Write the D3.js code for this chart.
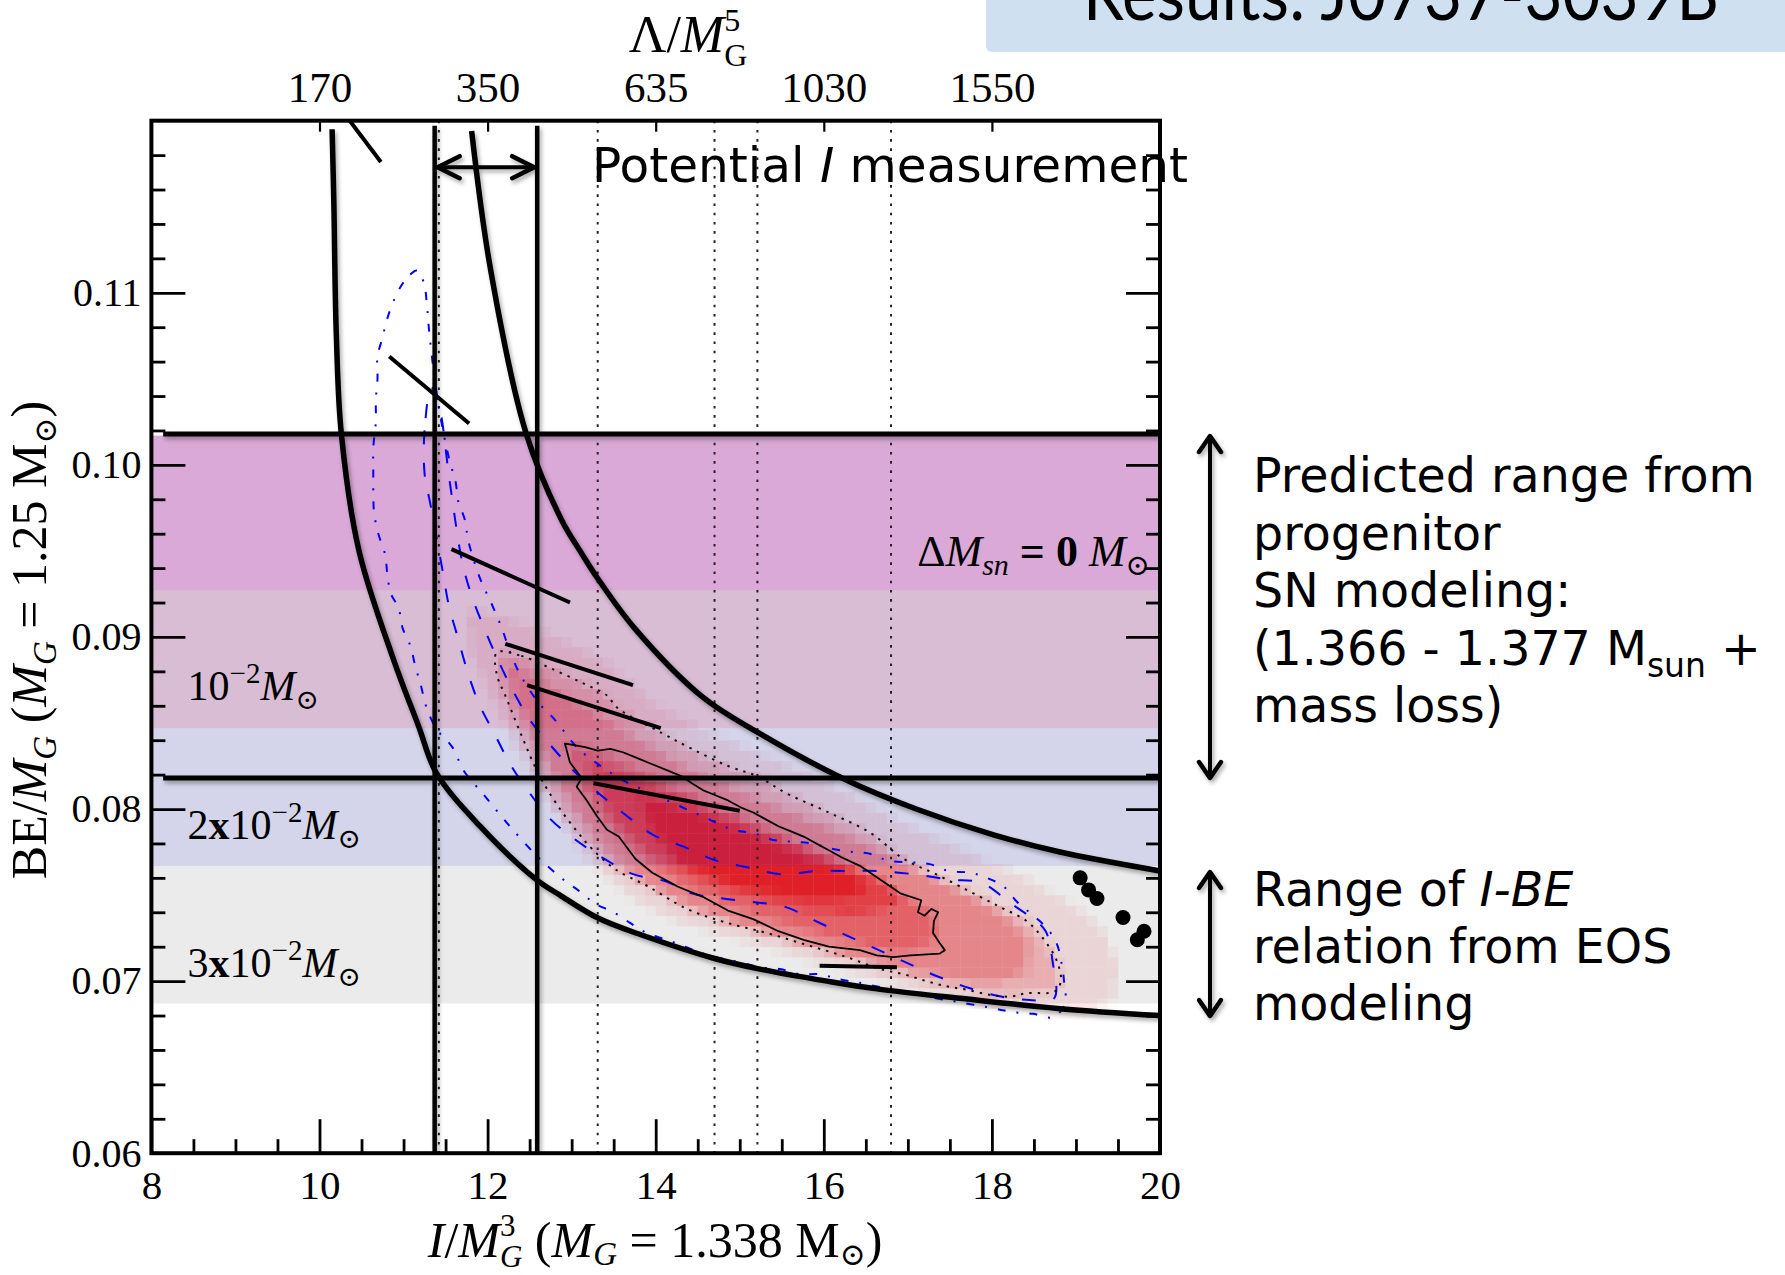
<!DOCTYPE html>
<html>
<head>
<meta charset="utf-8">
<title>Results: J0737-3039B</title>
<script src="https://cdn.jsdelivr.net/npm/d3@7"></script>
<style>
  html, body { margin: 0; padding: 0; background: #ffffff; }
  svg { display: block; }
  .serif { font-family: 'Liberation Serif', 'DejaVu Serif', serif; fill: #000; }
  .sans  { font-family: 'DejaVu Sans', 'Noto Sans', sans-serif; fill: #000; }
</style>
</head>
<body>
<svg id="chart" width="1785" height="1275"></svg>
<script>
// ---------------- Axis ticks ----------------
const iMajorTicks = [8, 10, 12, 14, 16, 18, 20];
const iTickLabels = ["8", "10", "12", "14", "16", "18", "20"];
const beMajorTicks = [0.06, 0.07, 0.08, 0.09, 0.10, 0.11];
const beTickLabels = ["0.06", "0.07", "0.08", "0.09", "0.10", "0.11"];
const lambdaTickI = [10, 12, 14, 16, 18];
const lambdaTickLabels = ["170", "350", "635", "1030", "1550"];

// ---------------- Mass-loss bands in BE/M_G ----------------
const bandTop    = [0.1017, 0.0927, 0.0847, 0.0767];
const bandBottom = [0.0927, 0.0847, 0.0767, 0.0687];

// Progenitor SN prediction limits (BE) and potential I measurement window (I)
const progenitorBE = [0.1018, 0.0818];
const measuredI = [11.37, 12.59];
// Reference Lambda guides
const lambdaGuideI = [11.42, 13.31, 14.70, 15.21, 16.80];

// ---------------- I-BE envelope from EOS modeling ----------------
const ibeLower = [[10.15,0.1195],[10.17,0.1154],[10.20,0.1076],[10.26,0.1018],[10.47,0.0950],[10.88,0.0887],
  [11.18,0.0848],[11.39,0.0821],[11.91,0.0790],[12.58,0.0759],[12.86,0.0750],[13.32,0.07365],[13.85,0.07265],
  [14.71,0.0713],[15.24,0.0707],[16.04,0.0700],[16.63,0.06955],[17.62,0.0690],[18.81,0.0684],[20.0,0.0680]];
const ibeUpper = [[11.81,0.1194],[12.03,0.1115],[12.46,0.1018],[12.88,0.0968],[13.10,0.0950],[13.31,0.0934],
  [13.75,0.0905],[14.56,0.0865],[15.20,0.0845],[16.26,0.0817],[17.10,0.0800],[18.02,0.0785],[18.81,0.0775],
  [20.0,0.0764]];

// Individual EOS tracks and points
const eosTracks = [
  [[10.36,0.1200],[10.73,0.1176]],
  [[10.83,0.1063],[11.78,0.1024]],
  [[11.57,0.0951],[12.98,0.0920]],
  [[12.21,0.0896],[13.73,0.0872]],
  [[12.47,0.0872],[14.06,0.0847]],
  [[13.26,0.0815],[15.00,0.0799]],
  [[15.95,0.0709],[16.87,0.0708]]
];
const eosPoints = [[19.05,0.0760],[19.15,0.0753],[19.25,0.0748],[19.56,0.0737],[19.81,0.0729],[19.73,0.0724]];

// ---------------- Posterior contours ----------------
const sigmaInner = [[12.93,0.0838],[13.16,0.0836],[13.31,0.0834],[13.46,0.0835],[13.61,0.0833],[13.76,0.0830],
  [13.96,0.0826],[14.16,0.0822],[14.31,0.0819],[14.43,0.0815],[14.56,0.0811],[14.71,0.0808],[14.86,0.0805],
  [15.01,0.0801],[15.16,0.0798],[15.31,0.0794],[15.46,0.0790],[15.61,0.0787],[15.76,0.0784],[15.91,0.0780],
  [16.06,0.0776],[16.21,0.0772],[16.43,0.0767],[16.67,0.0759],[16.91,0.0751],[17.16,0.0747],[17.12,0.0740],
  [17.20,0.0738],[17.28,0.0742],[17.36,0.0740],[17.31,0.0735],[17.30,0.0728],[17.38,0.0722],[17.44,0.0718],
  [17.38,0.0716],[17.03,0.0715],[16.83,0.0714],[16.63,0.0715],[16.43,0.0718],[16.06,0.0720],[15.76,0.0724],
  [15.46,0.0729],[15.16,0.0736],[14.86,0.0741],[14.56,0.0749],[14.26,0.0755],[13.96,0.0763],[13.76,0.0771],
  [13.56,0.0784],[13.42,0.0788],[13.30,0.0796],[13.18,0.0805],[13.06,0.0813],[13.12,0.0818],[12.98,0.0827],
  [12.92,0.0838]];
const sigmaOuter = [[12.11,0.0891],[12.40,0.0889],[12.74,0.0882],[13.14,0.0873],[13.42,0.0866],[13.54,0.0859],
  [14.08,0.0844],[14.43,0.0835],[14.86,0.0825],[15.21,0.0819],[15.56,0.0809],[16.06,0.0798],[16.56,0.0786],
  [16.95,0.0771],[17.34,0.0762],[17.74,0.0752],[18.10,0.0743],[18.41,0.0735],[18.59,0.0726],[18.77,0.0712],
  [18.82,0.0700],[18.75,0.0694],[18.41,0.0693],[18.22,0.0691],[17.98,0.0692],[17.70,0.0695],[17.46,0.0697],
  [17.22,0.0700],[16.95,0.0704],[16.67,0.0707],[16.27,0.0714],[15.80,0.0721],[15.32,0.0728],[14.84,0.0734],
  [14.37,0.0742],[13.91,0.0755],[13.52,0.0765],[13.24,0.0777],[13.08,0.0786],[12.82,0.0803],[12.60,0.0821],
  [12.41,0.0842],[12.21,0.0866],[12.11,0.0878]];
const blueDashed = [[11.33,0.1045],[11.25,0.1020],[11.25,0.0995],[11.32,0.0977],[11.47,0.0937],[11.54,0.0918],
  [11.65,0.0899],[11.76,0.0880],[11.90,0.0861],[12.09,0.0843],[12.27,0.0826],[12.49,0.0810],[12.75,0.0794],
  [13.05,0.0782],[13.39,0.0771],[13.74,0.0762],[14.12,0.0758],[14.43,0.0751],[14.80,0.0748],[15.15,0.0746],
  [15.55,0.0743],[15.90,0.0735],[16.25,0.0727],[16.61,0.0719],[16.97,0.0711],[17.34,0.0703],[17.73,0.0696],
  [18.11,0.0691],[18.45,0.0689],[18.74,0.0690],[18.72,0.0712],[18.64,0.0729],[18.52,0.0735],[18.23,0.0745],
  [17.88,0.0757],[17.50,0.0759],[17.09,0.0762],[16.65,0.0764],[16.30,0.0764],[15.91,0.0764],[15.50,0.0762],
  [15.11,0.0766],[14.72,0.0770],[14.34,0.0778],[13.97,0.0785],[13.63,0.0797],[13.35,0.0808],[13.03,0.0822],
  [12.75,0.0837],[12.50,0.0852],[12.30,0.0869],[12.12,0.0887],[11.96,0.0905],[11.81,0.0924],[11.70,0.0943],
  [11.55,0.0990],[11.42,0.1035]];
const blueDashDot = [[11.16,0.1113],[11.00,0.1106],[10.88,0.1095],[10.80,0.1084],[10.75,0.1074],[10.69,0.1063],
  [10.69,0.1050],[10.67,0.1038],[10.67,0.1025],[10.64,0.1010],[10.64,0.0997],[10.64,0.0985],[10.65,0.0972],
  [10.70,0.0960],[10.78,0.0948],[10.81,0.0935],[10.85,0.0925],[10.94,0.0917],[10.99,0.0905],[11.08,0.0895],
  [11.14,0.0883],[11.20,0.0873],[11.28,0.0858],[11.40,0.0846],[11.58,0.0836],[11.72,0.0822],[11.96,0.0808],
  [12.11,0.0799],[12.30,0.0788],[12.60,0.0772],[12.90,0.0759],[13.10,0.0752],[13.28,0.0745],[13.50,0.0740],
  [13.69,0.0734],[13.89,0.0728],[14.13,0.0724],[14.35,0.0720],[14.57,0.0716],[14.80,0.0713],[15.00,0.0711],
  [15.24,0.0708],[15.48,0.0707],[15.72,0.0704],[15.95,0.0704],[16.19,0.0701],[16.43,0.0699],[17.00,0.0693],
  [17.58,0.0688],[18.04,0.0684],[18.25,0.0682],[18.49,0.0681],[18.73,0.0679],[18.87,0.0687],[18.86,0.0699],
  [18.83,0.0710],[18.77,0.0722],[18.65,0.0731],[18.47,0.0739],[18.30,0.0746],[18.14,0.0755],[17.94,0.0760],
  [17.74,0.0763],[17.48,0.0764],[17.26,0.0768],[17.05,0.0769],[16.77,0.0770],[16.55,0.0774],[16.35,0.0775],
  [16.09,0.0777],[15.86,0.0780],[15.64,0.0781],[15.40,0.0782],[15.16,0.0786],[14.92,0.0788],[14.50,0.0797],
  [14.00,0.0808],[13.60,0.0817],[13.26,0.0828],[13.08,0.0835],[12.78,0.0853],[12.62,0.0861],[12.40,0.0877],
  [12.27,0.0891],[12.17,0.0905],[12.05,0.0919],[11.91,0.0934],[11.77,0.0956],[11.73,0.0968],[11.65,0.0979],
  [11.62,0.0990],[11.55,0.1002],[11.45,0.1025],[11.37,0.1050],[11.30,0.1080],[11.28,0.1092],[11.24,0.1106]];

// ---------------- Posterior density (2D histogram) ----------------
// Iso-density outlines, from the faintest to the peak level
const heatFaint = [[11.75,0.0915],[12.2,0.0912],[12.8,0.0900],[13.4,0.0885],[14.0,0.0860],[14.6,0.0845],
  [15.2,0.0833],[15.8,0.0821],[16.4,0.0806],[17.0,0.0790],[17.6,0.0777],[18.2,0.0764],[18.8,0.0749],
  [19.3,0.0731],[19.5,0.0710],[19.45,0.0690],[19.1,0.0681],[18.4,0.0684],[17.8,0.0688],[17.2,0.0694],
  [16.6,0.0702],[16.0,0.0710],[15.4,0.0719],[14.8,0.0727],[14.2,0.0736],[13.7,0.0749],[13.3,0.0766],
  [12.95,0.0787],[12.65,0.0810],[12.35,0.0835],[12.05,0.0865],[11.8,0.0892]];
const heatMedium = [[12.25,0.0885],[12.7,0.0872],[13.2,0.0858],[13.7,0.0843],[14.3,0.0826],[14.9,0.0812],
  [15.5,0.0800],[16.1,0.0788],[16.7,0.0774],[17.3,0.0760],[17.8,0.0748],[18.2,0.0736],[18.45,0.0722],
  [18.4,0.0705],[18.0,0.0699],[17.4,0.0703],[16.8,0.0709],[16.2,0.0716],[15.6,0.0724],[15.0,0.0733],
  [14.4,0.0744],[13.9,0.0757],[13.5,0.0772],[13.15,0.0792],[12.85,0.0815],[12.55,0.0842],[12.3,0.0868]];
const heatStrong = [[12.95,0.0840],[13.4,0.0831],[13.9,0.0820],[14.4,0.0809],[14.9,0.0798],[15.4,0.0787],
  [15.9,0.0776],[16.4,0.0765],[16.9,0.0752],[17.3,0.0738],[17.35,0.0725],[17.0,0.0717],[16.5,0.0721],
  [16.0,0.0727],[15.5,0.0734],[15.0,0.0742],[14.5,0.0752],[14.0,0.0766],[13.6,0.0782],[13.3,0.0800],[13.05,0.0820]];
const heatCore = [[13.2,0.0828],[13.8,0.0817],[14.3,0.0807],[14.8,0.0797],[15.3,0.0787],[15.8,0.0777],
  [16.3,0.0767],[16.8,0.0756],[16.9,0.0745],[16.4,0.0738],[15.9,0.0740],[15.4,0.0745],[14.9,0.0752],
  [14.4,0.0762],[13.9,0.0776],[13.45,0.0798]];
const heatPeak = [[13.8,0.0808],[14.4,0.0799],[14.9,0.0790],[15.4,0.0780],[15.9,0.0770],[16.4,0.0762],
  [16.5,0.0752],[16.0,0.0747],[15.4,0.0751],[14.8,0.0758],[14.3,0.0769],[13.95,0.0788]];
const heatLevels = [heatFaint, sigmaOuter, heatMedium, heatStrong, heatCore, heatPeak];
const heatLevelValue = [0.10, 0.28, 0.47, 0.64, 0.80, 0.95];
const heatIRange = [11.5, 19.75];
const heatBERange = [0.0666, 0.0924];
const heatBin = [0.125, 0.0006];

// ---------------- Layout ----------------
const W = 1785, H = 1275;
const plot = { left: 151.4, right: 1160, top: 120.7, bottom: 1153.2 };
const x = d3.scaleLinear().domain([8, 20]).range([plot.left, plot.right]);
const y = d3.scaleLinear().domain([0.06, 0.12]).range([plot.bottom, plot.top]);

const svg = d3.select("#chart");
const defs = svg.append("defs");
defs.append("clipPath").attr("id", "plot-clip").append("rect")
  .attr("x", plot.left).attr("y", plot.top)
  .attr("width", plot.right - plot.left).attr("height", plot.bottom - plot.top);
const shadow = defs.append("filter").attr("id", "soft-shadow")
  .attr("filterUnits", "userSpaceOnUse").attr("x", 0).attr("y", 0).attr("width", W).attr("height", H);
shadow.append("feDropShadow").attr("dx", 2).attr("dy", 3).attr("stdDeviation", 2.2)
  .attr("flood-color", "#000").attr("flood-opacity", 0.33);

// Title box (the slide title sits mostly above the visible area)
svg.append("rect").attr("x", 986).attr("y", -12).attr("width", 820).attr("height", 64).attr("rx", 6)
  .attr("fill", "#cfe0f1");
svg.append("text").attr("x", 1083).attr("y", 20)
  .attr("textLength", 636).attr("lengthAdjust", "spacingAndGlyphs")
  .style("font-family", "Lato, 'Open Sans', sans-serif").style("font-size", "74px").attr("fill", "#000")
  .text("Results: J0737-3039B");

const gPlot = svg.append("g").attr("clip-path", "url(#plot-clip)");

// ---- density cells ----
const heatColor = d3.interpolateRgb("#ffffff", "#f2121c");
const cells = [];
const nI = Math.round((heatIRange[1] - heatIRange[0]) / heatBin[0]);
const nB = Math.round((heatBERange[1] - heatBERange[0]) / heatBin[1]);
for (let c = 0; c < nI; c++) {
  const i0 = heatIRange[0] + c * heatBin[0];
  for (let r = 0; r < nB; r++) {
    const b0 = heatBERange[0] + r * heatBin[1];
    let sum = 0;
    for (let a = 0; a < 3; a++) for (let b = 0; b < 3; b++) {
      const p = [i0 + (a + 0.5) / 3 * heatBin[0], b0 + (b + 0.5) / 3 * heatBin[1]];
      let v = 0;
      heatLevels.forEach((poly, k) => { if (d3.polygonContains(poly, p)) v = Math.max(v, heatLevelValue[k]); });
      sum += v;
    }
    const v = sum / 9;
    if (v > 0.005) cells.push({ i0, b0, v });
  }
}
gPlot.append("g").selectAll("rect").data(cells).join("rect")
  .attr("x", d => x(d.i0))
  .attr("y", d => y(d.b0 + heatBin[1]))
  .attr("width", d => x(d.i0 + heatBin[0]) - x(d.i0) + 0.4)
  .attr("height", d => y(d.b0) - y(d.b0 + heatBin[1]) + 0.4)
  .attr("fill", d => heatColor(d.v));

// ---- mass-loss bands (translucent, over the density) ----
const bandFill = ["rgba(162,40,155,0.40)", "rgba(125,38,112,0.30)", "rgba(40,40,150,0.20)", "rgba(55,55,55,0.10)"];
gPlot.append("g").selectAll("rect").data(bandTop).join("rect")
  .attr("x", x(8)).attr("width", x(20) - x(8))
  .attr("y", d => y(d)).attr("height", (d, i) => y(bandBottom[i]) - y(d))
  .attr("fill", (d, i) => bandFill[i]);

// ---- Lambda guide lines ----
gPlot.append("g").selectAll("line").data(lambdaGuideI).join("line")
  .attr("x1", d => x(d)).attr("x2", d => x(d))
  .attr("y1", y(0.12)).attr("y2", y(0.06))
  .attr("stroke", "#222").attr("stroke-width", 2).attr("stroke-dasharray", "2.6,6.6");

// ---- contours ----
const closedLine = d3.line().x(d => x(d[0])).y(d => y(d[1])).curve(d3.curveCatmullRomClosed.alpha(0.5));
const jaggedLine = d3.line().x(d => x(d[0])).y(d => y(d[1])).curve(d3.curveLinearClosed);
gPlot.append("path").attr("d", closedLine(blueDashDot)).attr("fill", "none")
  .attr("stroke", "#0000ff").attr("stroke-width", 2).attr("stroke-dasharray", "8,11,2,11");
gPlot.append("path").attr("d", closedLine(blueDashed)).attr("fill", "none")
  .attr("stroke", "#0000ff").attr("stroke-width", 2).attr("stroke-dasharray", "14,18");
gPlot.append("path").attr("d", closedLine(sigmaOuter)).attr("fill", "none")
  .attr("stroke", "#111").attr("stroke-width", 2).attr("stroke-dasharray", "2.4,6");
gPlot.append("path").attr("d", jaggedLine(sigmaInner)).attr("fill", "none")
  .attr("stroke", "#000").attr("stroke-width", 1.8).attr("stroke-linejoin", "round");

// ---- EOS tracks and points ----
const straight = d3.line().x(d => x(d[0])).y(d => y(d[1]));
gPlot.append("g").selectAll("path").data(eosTracks).join("path")
  .attr("d", straight).attr("fill", "none").attr("stroke", "#000").attr("stroke-width", 4)
  .attr("stroke-linecap", "butt");
gPlot.append("g").selectAll("circle").data(eosPoints).join("circle")
  .attr("cx", d => x(d[0])).attr("cy", d => y(d[1])).attr("r", 7.5).attr("fill", "#000");

// ---- overlay lines with soft shadow ----
const gOver = gPlot.append("g").attr("filter", "url(#soft-shadow)");
const smooth = d3.line().x(d => x(d[0])).y(d => y(d[1])).curve(d3.curveCatmullRom.alpha(0.5));
[ibeLower, ibeUpper].forEach(c => {
  gOver.append("path").attr("d", smooth(c)).attr("fill", "none")
    .attr("stroke", "#000").attr("stroke-width", 5.5);
});
gOver.selectAll("line.hband").data(progenitorBE).join("line").attr("class", "hband")
  .attr("x1", x(8.14)).attr("x2", x(20)).attr("y1", d => y(d)).attr("y2", d => y(d))
  .attr("stroke", "#000").attr("stroke-width", 5);
gOver.selectAll("line.vmeas").data(measuredI).join("line").attr("class", "vmeas")
  .attr("x1", d => x(d)).attr("x2", d => x(d)).attr("y1", y(0.1197)).attr("y2", y(0.06))
  .attr("stroke", "#000").attr("stroke-width", 4.5);

// double arrow across the measurement window
const arrowBE = 0.1173;
const ax0 = x(measuredI[0]) + 3, ax1 = x(measuredI[1]) - 3, ay = y(arrowBE);
gOver.append("line").attr("x1", ax0).attr("x2", ax1).attr("y1", ay).attr("y2", ay)
  .attr("stroke", "#000").attr("stroke-width", 4);
gOver.append("path")
  .attr("d", `M${ax0 + 22},${ay - 11}L${ax0},${ay}L${ax0 + 22},${ay + 11}M${ax1 - 22},${ay - 11}L${ax1},${ay}L${ax1 - 22},${ay + 11}`)
  .attr("fill", "none").attr("stroke", "#000").attr("stroke-width", 4.5)
  .attr("stroke-linecap", "round").attr("stroke-linejoin", "round");

// ---------------- Axes ----------------
const serif = "'Liberation Serif', 'DejaVu Serif', serif";
function styleAxis(g, tickWidth, fontSize) {
  g.select(".domain").remove();
  g.selectAll("line").attr("stroke", "#000").attr("stroke-width", tickWidth);
  g.selectAll("text").style("font-family", serif).style("font-size", (fontSize || 40) + "px").attr("fill", "#000");
}
const iMinor = d3.range(8.5, 20, 0.5).filter(v => Math.abs(v - Math.round(v / 2) * 2) > 1e-6);
const beMinor = d3.range(0.062, 0.1195, 0.002).filter(v => Math.abs(v * 100 - Math.round(v * 100)) > 1e-6);

const gB = svg.append("g").attr("transform", `translate(0,${plot.bottom})`)
  .call(d3.axisBottom(x).tickValues(iMajorTicks).tickFormat((d, i) => iTickLabels[i])
    .tickSizeInner(-34).tickSizeOuter(0).tickPadding(17));
styleAxis(gB, 2.8, 41);
const gBm = svg.append("g").attr("transform", `translate(0,${plot.bottom})`)
  .call(d3.axisBottom(x).tickValues(iMinor).tickFormat("").tickSizeInner(-14).tickSizeOuter(0));
styleAxis(gBm, 2.8);

const gL = svg.append("g").attr("transform", `translate(${plot.left},0)`)
  .call(d3.axisLeft(y).tickValues(beMajorTicks).tickFormat((d, i) => beTickLabels[i])
    .tickSizeInner(-34).tickSizeOuter(0).tickPadding(10));
styleAxis(gL, 2.8, 40);
const gLm = svg.append("g").attr("transform", `translate(${plot.left},0)`)
  .call(d3.axisLeft(y).tickValues(beMinor).tickFormat("").tickSizeInner(-14).tickSizeOuter(0));
styleAxis(gLm, 2.8);

const gR = svg.append("g").attr("transform", `translate(${plot.right},0)`)
  .call(d3.axisRight(y).tickValues(beMajorTicks).tickFormat("").tickSizeInner(-34).tickSizeOuter(0));
styleAxis(gR, 2.8);
const gRm = svg.append("g").attr("transform", `translate(${plot.right},0)`)
  .call(d3.axisRight(y).tickValues(beMinor).tickFormat("").tickSizeInner(-14).tickSizeOuter(0));
styleAxis(gRm, 2.8);

const gT = svg.append("g").attr("transform", `translate(0,${plot.top})`)
  .call(d3.axisTop(x).tickValues(lambdaTickI).tickFormat((d, i) => lambdaTickLabels[i])
    .tickSizeInner(-11).tickSizeOuter(0).tickPadding(19));
styleAxis(gT, 2.2, 43);

svg.append("rect").attr("x", plot.left).attr("y", plot.top)
  .attr("width", plot.right - plot.left).attr("height", plot.bottom - plot.top)
  .attr("fill", "none").attr("stroke", "#000").attr("stroke-width", 4);

// ---------------- Axis titles ----------------
// top: Lambda / M_G^5
{
  const t = svg.append("text").attr("class", "serif").attr("x", 688).attr("y", 52)
    .attr("text-anchor", "middle").style("font-size", "52px");
  t.append("tspan").text("Λ/");
  t.append("tspan").style("font-style", "italic").text("M");
  t.append("tspan").attr("dy", -21).style("font-size", "32px").text("5");
  t.append("tspan").attr("dx", -16).attr("dy", 35).style("font-size", "32px").text("G");
}
// bottom: I / M_G^3 (M_G = 1.338 Msun)
{
  const t = svg.append("text").attr("class", "serif").attr("x", 655).attr("y", 1257)
    .attr("text-anchor", "middle").style("font-size", "50px");
  t.append("tspan").style("font-style", "italic").text("I");
  t.append("tspan").text("/");
  t.append("tspan").style("font-style", "italic").text("M");
  t.append("tspan").attr("dy", -21).style("font-size", "31px").text("3");
  t.append("tspan").attr("dx", -15.5).attr("dy", 31).style("font-size", "31px").style("font-style", "italic").text("G");
  t.append("tspan").attr("dy", -10).text(" (");
  t.append("tspan").style("font-style", "italic").text("M");
  t.append("tspan").attr("dy", 8).style("font-size", "33px").style("font-style", "italic").text("G");
  t.append("tspan").attr("dy", -8).text(" = 1.338 M");
  t.append("tspan").attr("dy", 8).style("font-size", "31px").text("⊙");
  t.append("tspan").attr("dy", -8).text(")");
}
// left: BE / M_G (M_G = 1.25 Msun)
{
  const t = svg.append("text").attr("class", "serif").attr("transform", "translate(46,640) rotate(-90)")
    .attr("text-anchor", "middle").style("font-size", "50px");
  t.append("tspan").text("BE/");
  t.append("tspan").style("font-style", "italic").text("M");
  t.append("tspan").attr("dy", 10).style("font-size", "33px").style("font-style", "italic").text("G");
  t.append("tspan").attr("dy", -10).text(" (");
  t.append("tspan").style("font-style", "italic").text("M");
  t.append("tspan").attr("dy", 10).style("font-size", "33px").style("font-style", "italic").text("G");
  t.append("tspan").attr("dy", -10).text(" = 1.25 M");
  t.append("tspan").attr("dy", 10).style("font-size", "31px").text("⊙");
  t.append("tspan").attr("dy", -10).text(")");
}

// ---------------- Band labels ----------------
{
  const t = svg.append("text").attr("class", "serif").attr("x", x(19.88)).attr("y", y(0.0941))
    .attr("text-anchor", "end").style("font-size", "44px");
  t.append("tspan").text("Δ");
  t.append("tspan").style("font-style", "italic").text("M");
  t.append("tspan").attr("dy", 9).style("font-size", "30px").style("font-style", "italic").text("sn");
  t.append("tspan").attr("dy", -9).style("font-weight", "bold").text(" = 0 ");
  t.append("tspan").style("font-style", "italic").text("M");
  t.append("tspan").attr("dy", 9).style("font-size", "29px").text("⊙");
}
const massLossPrefix = ["", "2", "3"];
const massLossLabelBE = [0.08634, 0.07826, 0.07025];
massLossPrefix.forEach((p, i) => {
  const t = svg.append("text").attr("class", "serif").attr("x", x(8.43)).attr("y", y(massLossLabelBE[i]))
    .style("font-size", "42px");
  if (p) {
    t.append("tspan").text(p);
    t.append("tspan").style("font-weight", "bold").text("x");
  }
  t.append("tspan").text("10");
  t.append("tspan").attr("dy", -17).style("font-size", "29px").text("−2");
  t.append("tspan").attr("dy", 17).style("font-style", "italic").text("M");
  t.append("tspan").attr("dy", 9).style("font-size", "28px").text("⊙");
});

// ---------------- Annotations ----------------
{
  const t = svg.append("text").attr("class", "sans").attr("x", 592).attr("y", 182).style("font-size", "48.5px");
  t.append("tspan").text("Potential ");
  t.append("tspan").style("font-style", "italic").text("I");
  t.append("tspan").text(" measurement");
}
const gArrows = svg.append("g").attr("filter", "url(#soft-shadow)");
function vArrow(xp, y0, y1) {
  gArrows.append("line").attr("x1", xp).attr("x2", xp).attr("y1", y0 + 2).attr("y2", y1 - 2)
    .attr("stroke", "#000").attr("stroke-width", 4);
  gArrows.append("path")
    .attr("d", `M${xp - 11},${y0 + 16}L${xp},${y0}L${xp + 11},${y0 + 16}M${xp - 11},${y1 - 16}L${xp},${y1}L${xp + 11},${y1 - 16}`)
    .attr("fill", "none").attr("stroke", "#000").attr("stroke-width", 4.5)
    .attr("stroke-linecap", "round").attr("stroke-linejoin", "round");
}
vArrow(1210, 436, 778);
vArrow(1210, 872, 1016);

const predictedLines = ["Predicted range from", "progenitor", "SN modeling:", "(1.366 - 1.377 M", "mass loss)"];
predictedLines.forEach((s, i) => {
  const t = svg.append("text").attr("class", "sans").attr("x", 1253).attr("y", 492 + i * 57.5)
    .style("font-size", "47.5px");
  t.append("tspan").text(s);
  if (i === 3) {
    t.append("tspan").attr("dy", 12).style("font-size", "33px").text("sun");
    t.append("tspan").attr("dy", -12).text(" +");
  }
});
{
  const t = svg.append("text").attr("class", "sans").attr("x", 1253).attr("y", 906).style("font-size", "47.5px");
  t.append("tspan").text("Range of ");
  t.append("tspan").style("font-style", "italic").text("I-BE");
  svg.append("text").attr("class", "sans").attr("x", 1253).attr("y", 963).style("font-size", "47.5px")
    .text("relation from EOS");
  svg.append("text").attr("class", "sans").attr("x", 1253).attr("y", 1020).style("font-size", "47.5px")
    .text("modeling");
}
</script>
</body>
</html>
